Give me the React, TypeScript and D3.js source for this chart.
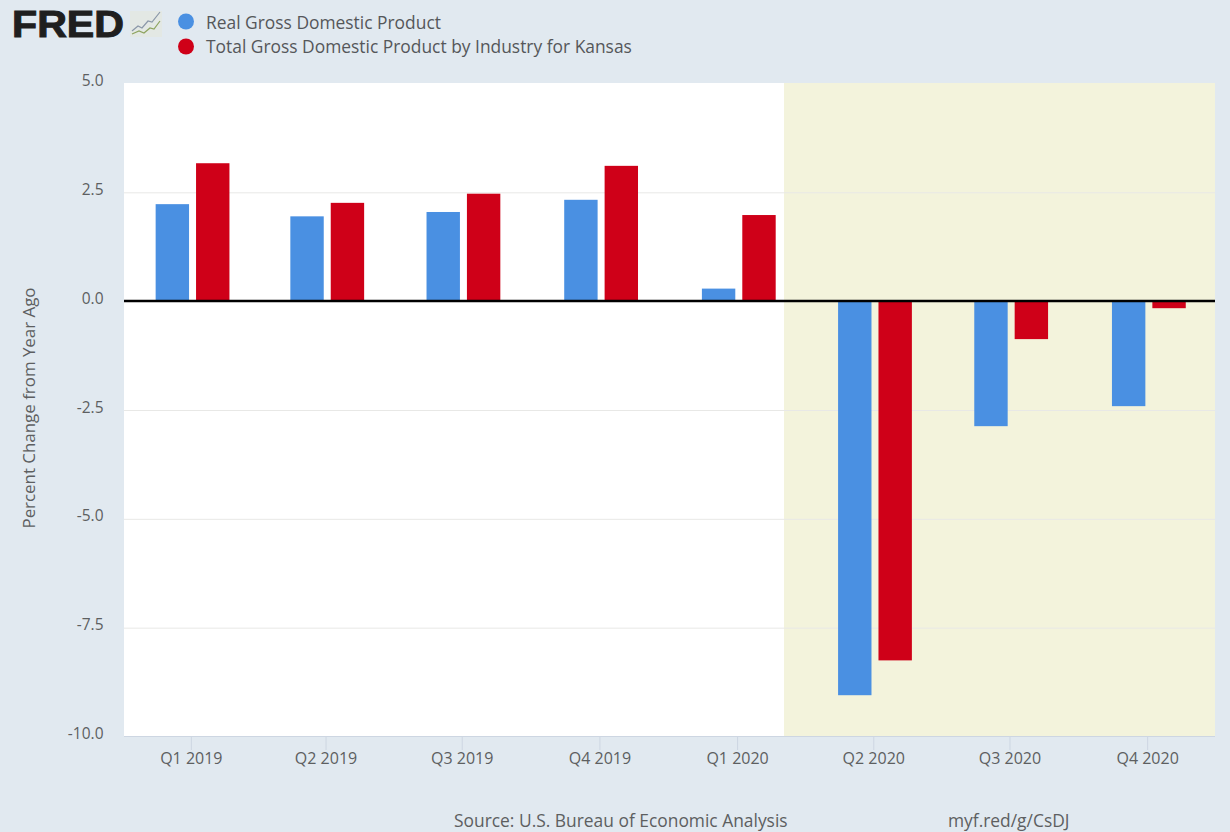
import React from "react";
import * as d3 from "d3";

const quarters = ["2019-01-01","2019-04-01","2019-07-01","2019-10-01","2020-01-01","2020-04-01","2020-07-01","2020-10-01"];
const quarterLabels = ["Q1 2019","Q2 2019","Q3 2019","Q4 2019","Q1 2020","Q2 2020","Q3 2020","Q4 2020"];
const realGdp = [2.24,1.96,2.06,2.34,0.3,-9.04,-2.86,-2.4];
const kansasGdp = [3.18,2.27,2.48,3.12,1.99,-8.24,-0.86,-0.15];
const yTicks = [5,2.5,0,-2.5,-5,-7.5,-10];
const domainStart = "2018-11-17";
const domainEnd = "2020-11-15";
const recessionStart = "2020-02-01";

const W = 1230, H = 832;
const BG = "#e1e9f0", BLUE = "#4a90e2", RED = "#cf0018", TEXT = "#5d5f61", FONT = "'Open Sans', sans-serif";
const d = (s: string) => new Date(s + "T00:00:00Z");

export default function App() {
  const x = d3.scaleUtc().domain([d(domainStart), d(domainEnd)]).range([124, 1215]);
  const y = d3.scaleLinear().domain([-10, 5]).range([737, 84]);
  const barW = 33.4, off = 20.2, shift = 1.2;
  const bar = (v: number, i: number, dir: number, color: string) => {
    const cx = x(d(quarters[i])) + shift + dir * off;
    return <rect key={color + i} x={cx - barW / 2} width={barW} y={Math.min(y(v), y(0))} height={Math.abs(y(v) - y(0))} fill={color} />;
  };
  return (
    <svg width={W} height={H} style={{ position: "absolute", left: 0, top: 0, fontFamily: FONT }}>
      <rect width={W} height={H} fill={BG} />
      <rect x={124} y={83} width={1091} height={653} fill="#fff" />
      <rect x={x(d(recessionStart))} y={83} width={1215 - x(d(recessionStart))} height={653} fill="#f3f3dc" />
      {yTicks.filter(t => t !== 5 && t !== 0 && t !== -10).map(t => (
        <line key={t} x1={124} x2={1215} y1={y(t)} y2={y(t)} stroke="#e8e8e6" strokeWidth={1} />
      ))}
      <line x1={124} x2={1215} y1={736.5} y2={736.5} stroke="#cdd6e2" />
      {quarters.map((q, i) => (
        <g key={q}>
          <line x1={x(d(q))} x2={x(d(q))} y1={737} y2={750} stroke="#cdd6e2" />
          <text x={x(d(q))} y={764} textAnchor="middle" fontSize={16} fill={TEXT}>{quarterLabels[i]}</text>
        </g>
      ))}
      {yTicks.map(t => (
        <text key={t} x={103.5} y={y(t) + 2} textAnchor="end" fontSize={15.5} fill={TEXT}>{t.toFixed(1)}</text>
      ))}
      {realGdp.map((v, i) => bar(v, i, -1, BLUE))}
      {kansasGdp.map((v, i) => bar(v, i, 1, RED))}
      <line x1={124} x2={1215} y1={y(0) - 0.7} y2={y(0) - 0.7} stroke="#000" strokeWidth={2.4} />
      <text transform="translate(35,408) rotate(-90)" textAnchor="middle" fontSize={16.9} fill={TEXT}>Percent Change from Year Ago</text>

      <text x={12} y={37} fontFamily="'Liberation Sans', sans-serif" fontWeight={700} fontSize={36} textLength={112} lengthAdjust="spacingAndGlyphs" fill="#1f1f1f" stroke="#1f1f1f" strokeWidth={1}>FRED</text>
      <rect x={130} y={11} width={32} height={26} fill="#e3e8e4" />
      <polyline points="132,31 138,26 142,28 148,21 152,22 160,12" fill="none" stroke="#8a97a8" strokeWidth={1.2} />
      <polyline points="132,34 139,31 144,33 150,28 154,29 160,21" fill="none" stroke="#8ea45f" strokeWidth={1.2} />

      <circle cx={186} cy={21.5} r={8} fill={BLUE} />
      <circle cx={186} cy={46.5} r={8} fill={RED} />
      <text x={206} y={29} fontSize={17.4} fill="#55575a">Real Gross Domestic Product</text>
      <text x={206} y={53} fontSize={17.4} fill="#55575a">Total Gross Domestic Product by Industry for Kansas</text>

      <text x={454} y={827} fontSize={17.4} fill={TEXT}>Source: U.S. Bureau of Economic Analysis</text>
      <text x={948} y={827} fontSize={17.4} fill={TEXT}>myf.red/g/CsDJ</text>
    </svg>
  );
}
